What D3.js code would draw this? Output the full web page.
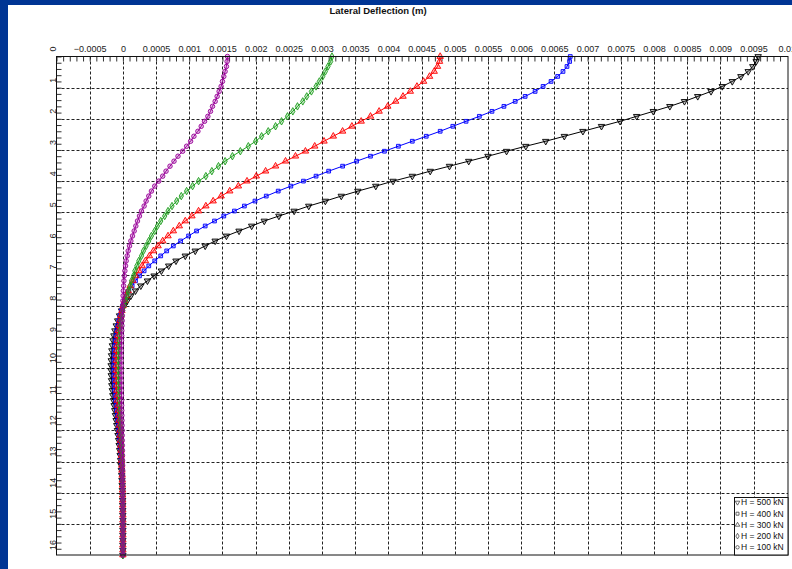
<!DOCTYPE html>
<html>
<head>
  <meta charset="utf-8">
  <title>Lateral Deflection</title>
  <script src="https://d3js.org/d3.v7.min.js"></script>
  <style>
    body {
      margin: 0;
      background: #003594;
      overflow: hidden;
    }
    svg {
      display: block;
      font-family: "Liberation Sans", Arial, sans-serif;
    }
  </style>
</head>
<body>
  <div id="chart"></div>

  <script>
    // depth below pile head (m), one marker every 0.16 m
    const depth = [
      0, 0.16, 0.32, 0.48, 0.64, 0.8, 0.96, 1.12, 1.28, 1.44,
      1.6, 1.76, 1.92, 2.08, 2.24, 2.4, 2.56, 2.72, 2.88, 3.04,
      3.2, 3.36, 3.52, 3.68, 3.84, 4, 4.16, 4.32, 4.48, 4.64,
      4.8, 4.96, 5.12, 5.28, 5.44, 5.6, 5.76, 5.92, 6.08, 6.24,
      6.4, 6.56, 6.72, 6.88, 7.04, 7.2, 7.36, 7.52, 7.68, 7.84,
      8, 8.16, 8.32, 8.48, 8.64, 8.8, 8.96, 9.12, 9.28, 9.44,
      9.6, 9.76, 9.92, 10.08, 10.24, 10.4, 10.56, 10.72, 10.88, 11.04,
      11.2, 11.36, 11.52, 11.68, 11.84, 12, 12.16, 12.32, 12.48, 12.64,
      12.8, 12.96, 13.12, 13.28, 13.44, 13.6, 13.76, 13.92, 14.08, 14.24,
      14.4, 14.56, 14.72, 14.88, 15.04, 15.2, 15.36, 15.52, 15.68, 15.84,
      16
    ];

    // lateral deflection in mm
    const defl500 = [
      9.57, 9.54, 9.49, 9.42, 9.31, 9.18, 9.03, 8.86, 8.66, 8.46,
      8.24, 7.99, 7.74, 7.49, 7.21, 6.93, 6.65, 6.37, 6.07, 5.78,
      5.50, 5.21, 4.92, 4.63, 4.36, 4.07, 3.81, 3.54, 3.29, 3.05,
      2.80, 2.58, 2.35, 2.13, 1.94, 1.75, 1.56, 1.39, 1.24, 1.09,
      0.94, 0.80, 0.69, 0.58, 0.47, 0.37, 0.27, 0.19, 0.12, 0.065,
      0.02, -0.02, -0.05, -0.078, -0.10, -0.12, -0.135, -0.148, -0.158, -0.166,
      -0.171, -0.175, -0.177, -0.177, -0.175, -0.171, -0.166, -0.159, -0.151, -0.142,
      -0.132, -0.122, -0.112, -0.102, -0.092, -0.082, -0.073, -0.064, -0.056, -0.048,
      -0.041, -0.034, -0.028, -0.023, -0.018, -0.014, -0.011, -0.008, -0.006, -0.004,
      -0.003, -0.002, -0.001, 0, 0, 0, 0, 0, 0, 0,
      0
    ];
    const defl400 = [
      6.74, 6.73, 6.69, 6.63, 6.55, 6.45, 6.33, 6.21, 6.06, 5.91,
      5.74, 5.56, 5.37, 5.17, 4.97, 4.78, 4.57, 4.36, 4.15, 3.94,
      3.73, 3.52, 3.31, 3.10, 2.91, 2.72, 2.53, 2.34, 2.16, 1.99,
      1.83, 1.68, 1.52, 1.38, 1.24, 1.11, 0.99, 0.87, 0.76, 0.66,
      0.57, 0.48, 0.39, 0.32, 0.25, 0.19, 0.14, 0.09, 0.055, 0.025,
      -0.002, -0.025, -0.045, -0.063, -0.079, -0.093, -0.105, -0.115, -0.123, -0.129,
      -0.133, -0.136, -0.138, -0.138, -0.136, -0.133, -0.129, -0.124, -0.118, -0.111,
      -0.103, -0.095, -0.087, -0.079, -0.071, -0.064, -0.057, -0.050, -0.043, -0.037,
      -0.032, -0.027, -0.022, -0.018, -0.014, -0.011, -0.008, -0.006, -0.005, -0.003,
      -0.002, -0.001, 0, 0, 0, 0, 0, 0, 0, 0,
      0
    ];
    const defl300 = [
      4.78, 4.77, 4.74, 4.69, 4.62, 4.53, 4.43, 4.33, 4.22, 4.11,
      3.99, 3.86, 3.73, 3.59, 3.45, 3.31, 3.17, 3.03, 2.89, 2.75,
      2.60, 2.45, 2.30, 2.15, 2.01, 1.87, 1.74, 1.61, 1.48, 1.36,
      1.25, 1.14, 1.04, 0.94, 0.85, 0.76, 0.68, 0.60, 0.53, 0.46,
      0.40, 0.34, 0.29, 0.24, 0.19, 0.15, 0.11, 0.08, 0.05, 0.025,
      0.003, -0.015, -0.031, -0.045, -0.057, -0.068, -0.077, -0.084, -0.090, -0.095,
      -0.098, -0.100, -0.101, -0.101, -0.100, -0.098, -0.095, -0.091, -0.087, -0.082,
      -0.076, -0.070, -0.064, -0.058, -0.052, -0.047, -0.042, -0.037, -0.032, -0.028,
      -0.024, -0.020, -0.017, -0.014, -0.011, -0.009, -0.007, -0.005, -0.004, -0.003,
      -0.002, -0.001, 0, 0, 0, 0, 0, 0, 0, 0,
      0
    ];
    const defl200 = [
      3.15, 3.13, 3.09, 3.05, 3.01, 2.96, 2.91, 2.84, 2.77, 2.71,
      2.63, 2.56, 2.48, 2.39, 2.30, 2.19, 2.09, 2.00, 1.89, 1.77,
      1.65, 1.54, 1.44, 1.34, 1.25, 1.14, 1.05, 0.96, 0.88, 0.81,
      0.74, 0.68, 0.63, 0.57, 0.52, 0.48, 0.43, 0.39, 0.35, 0.31,
      0.28, 0.24, 0.21, 0.18, 0.16, 0.13, 0.11, 0.08, 0.06, 0.035,
      0.015, -0.003, -0.016, -0.027, -0.036, -0.044, -0.050, -0.055, -0.059, -0.062,
      -0.064, -0.066, -0.066, -0.066, -0.065, -0.064, -0.062, -0.059, -0.056, -0.053,
      -0.049, -0.045, -0.041, -0.037, -0.034, -0.030, -0.027, -0.024, -0.021, -0.018,
      -0.015, -0.013, -0.011, -0.009, -0.007, -0.006, -0.004, -0.003, -0.002, -0.001,
      0, 0, 0, 0, 0, 0, 0, 0, 0, 0,
      0
    ];
    const defl100 = [
      1.575, 1.57, 1.56, 1.54, 1.52, 1.50, 1.48, 1.45, 1.42, 1.39,
      1.35, 1.32, 1.28, 1.23, 1.18, 1.13, 1.07, 1.02, 0.96, 0.90,
      0.83, 0.77, 0.71, 0.65, 0.60, 0.54, 0.48, 0.43, 0.39, 0.35,
      0.32, 0.28, 0.25, 0.22, 0.195, 0.17, 0.145, 0.12, 0.10, 0.08,
      0.065, 0.05, 0.04, 0.03, 0.022, 0.016, 0.011, 0.007, 0.004, 0.001,
      -0.002, -0.005, -0.008, -0.011, -0.014, -0.016, -0.018, -0.020, -0.022, -0.023,
      -0.024, -0.025, -0.025, -0.025, -0.025, -0.024, -0.023, -0.022, -0.021, -0.020,
      -0.018, -0.017, -0.015, -0.014, -0.012, -0.011, -0.010, -0.009, -0.008, -0.007,
      -0.006, -0.005, -0.004, -0.003, -0.003, -0.002, -0.002, -0.001, -0.001, 0,
      0, 0, 0, 0, 0, 0, 0, 0, 0, 0,
      0
    ];

    const loads = ["H = 500 kN", "H = 400 kN", "H = 300 kN", "H = 200 kN", "H = 100 kN"];
    const colors = ["#000000", "#0000ff", "#ff0000", "#1e9e1e", "#990099"];
    const series = [defl500, defl400, defl300, defl200, defl100];

    // axis ticks
    const xLabelTicks = [-0.0005, 0, 0.0005, 0.001, 0.0015, 0.002, 0.0025, 0.003, 0.0035, 0.004,
      0.0045, 0.005, 0.0055, 0.006, 0.0065, 0.007, 0.0075, 0.008, 0.0085, 0.009, 0.0095, 0.01];
    const yLabelTicks = [0, 1, 2, 3, 4, 5, 6, 7, 8, 9, 10, 11, 12, 13, 14, 15, 16];

    const width = 792;
    const height = 569;
    const plotLeft = 56.5, plotRight = 786.7, plotTop = 56.5, plotBottom = 555, frameRight = 788;

    const x = d3.scaleLinear().domain([-0.001, 0.01]).range([plotLeft, plotRight]);
    const y = d3.scaleLinear().domain([0, 16]).range([plotTop, plotBottom]);

    const svg = d3.select("#chart").append("svg")
      .attr("width", width)
      .attr("height", height);

    // white page inside the blue frame
    svg.append("rect")
      .attr("x", 8).attr("y", 5)
      .attr("width", width - 8).attr("height", height - 5)
      .attr("fill", "#ffffff");

    svg.append("text")
      .attr("x", 378).attr("y", 14)
      .attr("text-anchor", "middle")
      .attr("font-size", "9.5px")
      .attr("font-weight", "bold")
      .attr("fill", "#111")
      .text("Lateral Deflection (m)");

    // dashed grid
    const grid = svg.append("g")
      .attr("stroke", "#222")
      .attr("stroke-width", 1)
      .attr("stroke-dasharray", "3,2");

    grid.selectAll("line.v")
      .data(xLabelTicks.filter(d => d < 0.01))
      .join("line")
      .attr("class", "v")
      .attr("x1", d => Math.round(x(d)) + 0.5)
      .attr("x2", d => Math.round(x(d)) + 0.5)
      .attr("y1", plotTop)
      .attr("y2", plotBottom);

    grid.selectAll("line.h")
      .data(yLabelTicks.filter(d => d > 0 && d < 16))
      .join("line")
      .attr("class", "h")
      .attr("y1", d => Math.round(y(d)) + 0.5)
      .attr("y2", d => Math.round(y(d)) + 0.5)
      .attr("x1", plotLeft)
      .attr("x2", frameRight);

    // minor ticks on the top and left axes
    const xMinor = d3.range(-10, 100).map(k => k * 0.0001);
    const yMinor = d3.range(0, 80).map(k => k * 0.2);

    svg.append("g")
      .attr("transform", `translate(0,${plotTop})`)
      .call(d3.axisTop(x).tickValues(xMinor).tickSizeInner(-5).tickSizeOuter(0).tickFormat(""))
      .call(g => g.select(".domain").remove())
      .call(g => g.selectAll("line").attr("stroke", "#333"));

    svg.append("g")
      .attr("transform", `translate(${plotLeft},0)`)
      .call(d3.axisLeft(y).tickValues(yMinor).tickSizeInner(-5).tickSizeOuter(0).tickFormat(""))
      .call(g => g.select(".domain").remove())
      .call(g => g.selectAll("line").attr("stroke", "#333"));

    // top tick labels
    svg.append("g")
      .attr("transform", `translate(0,${plotTop})`)
      .call(d3.axisTop(x).tickValues(xLabelTicks).tickSize(0).tickPadding(5)
        .tickFormat(d3.format("~g")))
      .call(g => g.select(".domain").remove())
      .call(g => g.selectAll("text")
        .attr("font-size", "9px")
        .attr("font-family", "'Liberation Sans', Arial, sans-serif")
        .attr("fill", "#222"));

    // left tick labels, rotated
    svg.append("g")
      .selectAll("text")
      .data(yLabelTicks)
      .join("text")
      .attr("transform", d => `translate(55.5,${y(d) - 5}) rotate(-90)`)
      .attr("text-anchor", "start")
      .attr("font-size", "9px")
      .attr("fill", "#222")
      .text(d => d);

    // curves
    const symbolTypes = [d3.symbolTriangle, d3.symbolSquare, d3.symbolTriangle, d3.symbolDiamond, d3.symbolCircle];
    const symbolRot = [180, 0, 0, 0, 0];
    const symbolSize = [18, 14, 18, 16, 16];

    const line = d3.line()
      .x(v => x(v / 1000))
      .y((v, i) => y(depth[i]));

    series.forEach(function(values, s) {
      const g = svg.append("g");

      g.append("path")
        .datum(values)
        .attr("fill", "none")
        .attr("stroke", colors[s])
        .attr("stroke-width", 1)
        .attr("d", line);

      const sym = d3.symbol().type(symbolTypes[s]).size(symbolSize[s]);

      g.selectAll("path.m")
        .data(values)
        .join("path")
        .attr("class", "m")
        .attr("transform", (v, i) => `translate(${x(v / 1000)},${y(depth[i])}) rotate(${symbolRot[s]})`)
        .attr("d", sym)
        .attr("fill", colors[s])
        .attr("fill-opacity", 0.25)
        .attr("stroke", colors[s])
        .attr("stroke-width", 0.9);
    });

    // plot frame
    svg.append("rect")
      .attr("x", plotLeft).attr("y", plotTop)
      .attr("width", frameRight - plotLeft).attr("height", plotBottom - plotTop)
      .attr("fill", "none")
      .attr("stroke", "#111")
      .attr("stroke-width", 1);

    // legend
    const legend = svg.append("g");
    legend.append("rect")
      .attr("x", 734.5).attr("y", 497.5)
      .attr("width", frameRight - 734.5).attr("height", plotBottom - 497.5)
      .attr("fill", "#ffffff")
      .attr("stroke", "#111");

    const item = legend.selectAll("g.item")
      .data(loads)
      .join("g")
      .attr("class", "item")
      .attr("transform", (d, i) => `translate(737.5,${502.5 + i * 11.2})`);

    item.append("path")
      .attr("transform", (d, i) => `rotate(${symbolRot[i]})`)
      .attr("d", (d, i) => d3.symbol().type(symbolTypes[i]).size(9)())
      .attr("fill", "none")
      .attr("stroke", "#444")
      .attr("stroke-width", 0.8);

    item.append("text")
      .attr("x", 3.5)
      .attr("dy", "0.35em")
      .attr("font-size", "8.5px")
      .attr("fill", "#111")
      .text(d => d);
  </script>
</body>
</html>
